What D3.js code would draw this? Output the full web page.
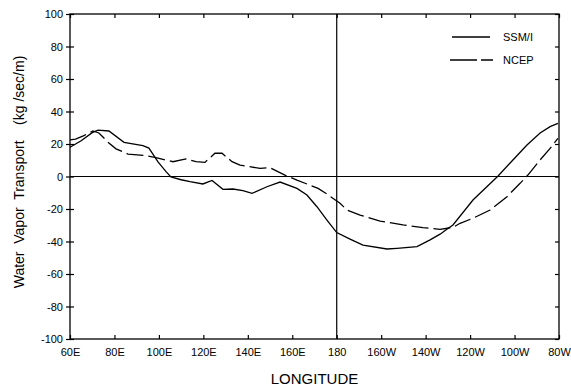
<!DOCTYPE html>
<html><head><meta charset="utf-8">
<script src="https://cdn.jsdelivr.net/npm/d3@7"></script>
<style>body{margin:0;background:#fff}svg{display:block}text{font-family:"Liberation Sans",Arial,sans-serif;fill:#000}</style>
</head><body><svg id="c" width="571" height="388"></svg>
<script>
// longitude in degrees east (180 = dateline, 280 = 80W)
const ssmiLon = [60,65,70,72.6,77.5,84.3,92.8,95.5,99.6,103.2,105.4,110,114,119.8,123.9,128.8,133.3,137.8,141.9,148.6,154.5,162.1,166.6,171.1,175.6,180,186,191.8,202.6,207.1,216.1,222,226.5,230,232.3,241.3,252.6,258,265.6,271.5,276,279.5];
const ssmiVal = [18,22,27,28.5,28,21,19,17.5,9,3,-0.3,-2,-3.2,-4.6,-2.4,-7.9,-7.7,-8.7,-10.4,-6.3,-3.4,-7.3,-11.4,-18.6,-26.8,-34.5,-38.5,-42.2,-44.6,-44.2,-43.2,-39,-35.5,-32,-29.8,-14.5,0.3,8.3,19.4,26.8,30.7,32.7];
const ncepLon = [60,62.5,66,70.3,73,77.5,80.7,86.1,94.2,98.7,106.3,112.2,116.7,120.7,125.2,128.4,132.9,136.5,145.5,150,156.7,162.1,171.6,175.6,181.5,184.6,190.5,199.5,209.8,218.8,226.5,232.3,235.5,241.3,249,256.6,262.5,266,271.5,276,279.5];
const ncepVal = [22.5,23,25,28,26.8,20.6,17,13.8,12.8,11.6,9.1,10.8,9.1,8.7,14.3,14.3,9.1,7,5,5.4,0.9,-2.2,-7.3,-10.8,-16.5,-20.6,-23.7,-27.4,-29.8,-31.5,-32.5,-31.3,-28.8,-25.7,-20.6,-12.4,-4.2,0.9,10.2,17.3,23.5];
const xTicks = [60,80,100,120,140,160,180,200,220,240,260,280];
const xTickLabels = ["60E","80E","100E","120E","140E","160E","180","160W","140W","120W","100W","80W"];
const yTicks = [-100,-80,-60,-40,-20,0,20,40,60,80,100];
const seriesNames = ["SSM/I","NCEP"];

const svg = d3.select("#c");
const L=70,R=559,T=14,B=339;
const x = d3.scaleLinear().domain([60,280]).range([L,R]);
const y = d3.scaleLinear().domain([-100,100]).range([B,T]);

// frame
svg.append("rect").attr("x",L).attr("y",T).attr("width",R-L).attr("height",B-T)
  .attr("fill","none").attr("stroke","#000").attr("stroke-width",1.3);

// axes
const fmtX = (d)=>xTickLabels[xTicks.indexOf(d)];
const gB = svg.append("g").attr("transform",`translate(0,${B})`)
  .call(d3.axisBottom(x).tickValues(xTicks).tickFormat(fmtX).tickSize(-4).tickPadding(9));
const gT = svg.append("g").attr("transform",`translate(0,${T})`)
  .call(d3.axisTop(x).tickValues(xTicks).tickFormat("").tickSize(-4));
const gL = svg.append("g").attr("transform",`translate(${L},0)`)
  .call(d3.axisLeft(y).tickValues(yTicks).tickFormat(d=>String(d)).tickSize(4).tickPadding(3));
const gR = svg.append("g").attr("transform",`translate(${R},0)`)
  .call(d3.axisRight(y).tickValues(yTicks).tickFormat("").tickSize(-4));
gL.selectAll(".tick line").attr("x2",4).attr("x1",-4);
[gB,gT,gL,gR].forEach(g=>{
  g.select(".domain").remove();
  g.selectAll(".tick line").attr("stroke","#000").attr("stroke-width",1.2);
  g.selectAll("text").attr("font-size",11).attr("font-family","Liberation Sans, Arial, sans-serif").attr("fill","#000");
});

// reference lines
svg.append("line").attr("x1",L).attr("x2",R).attr("y1",y(0)).attr("y2",y(0)).attr("stroke","#000").attr("stroke-width",1.2);
svg.append("line").attr("x1",x(180)).attr("x2",x(180)).attr("y1",T).attr("y2",B).attr("stroke","#000").attr("stroke-width",1.2);

const line = d3.line().x(d=>x(d[0])).y(d=>y(d[1]));
svg.append("path").datum(d3.zip(ssmiLon,ssmiVal)).attr("d",line)
  .attr("fill","none").attr("stroke","#000").attr("stroke-width",1.3);
svg.append("path").datum(d3.zip(ncepLon,ncepVal)).attr("d",line)
  .attr("fill","none").attr("stroke","#000").attr("stroke-width",1.3).attr("stroke-dasharray","17,5");

// legend
const lg = svg.append("g");
lg.append("line").attr("x1",452).attr("x2",490).attr("y1",37).attr("y2",37).attr("stroke","#000").attr("stroke-width",1.3);
lg.append("line").attr("x1",450).attr("x2",493).attr("y1",60).attr("y2",60).attr("stroke","#000").attr("stroke-width",1.3).attr("stroke-dasharray","27,4");
lg.append("text").attr("x",503).attr("y",41).attr("font-size",11).text(seriesNames[0]);
lg.append("text").attr("x",503).attr("y",64).attr("font-size",11).text(seriesNames[1]);

// axis titles
svg.append("text").attr("x",(L+R)/2).attr("y",384).attr("text-anchor","middle").attr("font-size",15)
  .text("LONGITUDE");
svg.append("text").attr("transform","translate(24,172) rotate(-90)").attr("text-anchor","middle")
  .attr("font-size",14).style("white-space","pre").text("Water  Vapor  Transport    (kg /sec/m)");
</script></body></html>
